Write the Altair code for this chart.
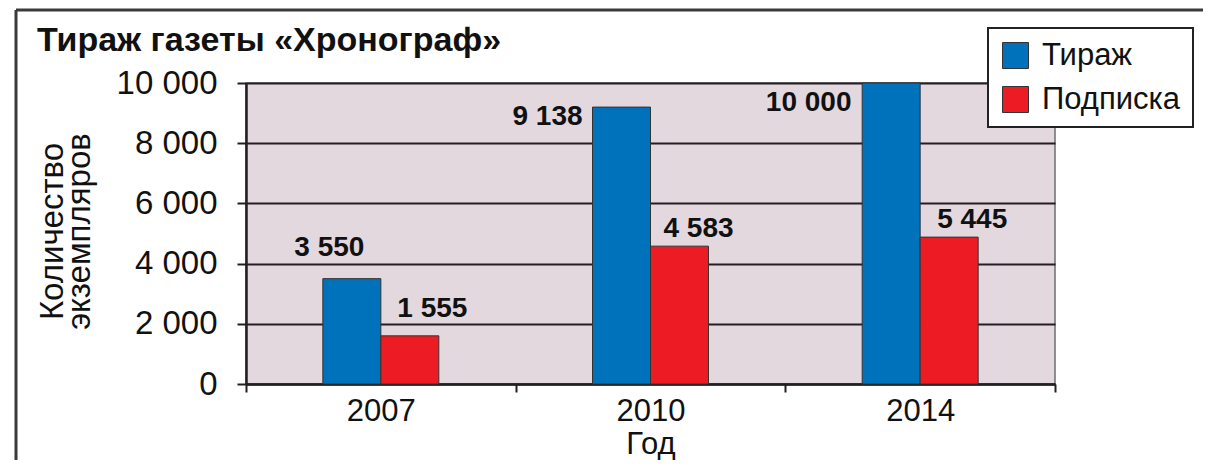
import altair as alt
import pandas as pd

years = ["2007", "2010", "2014"]
series = ["Тираж", "Подписка"]
tirazh = [3500, 9200, 10000]
podpiska = [1600, 4580, 4880]
tirazh_labels = ["3 550", "9 138", "10 000"]
podpiska_labels = ["1 555", "4 583", "5 445"]
colors = ["#0071BB", "#ED1C24"]
y_ticks = [0, 2000, 4000, 6000, 8000, 10000]

rows = []
for i, y in enumerate(years):
    rows.append({"year": y, "series": series[0], "value": tirazh[i], "label": tirazh_labels[i]})
    rows.append({"year": y, "series": series[1], "value": podpiska[i], "label": podpiska_labels[i]})
df = pd.DataFrame(rows)

FONT = "Liberation Sans"
W, H = 809, 301
PAD = {"left": 238, "top": 75, "right": 148, "bottom": 76}

# offset slots: empty slot on each side keeps bars narrow and centred
offset_domain = ["_l"] + series + ["_r"]

x_enc = alt.X("year:N", sort=years,
              scale=alt.Scale(paddingInner=0, paddingOuter=0),
              axis=alt.Axis(title="Год", labelAngle=0, tickBand="extent",
                            labelFontSize=31, titleFontSize=31, titleFontWeight="normal",
                            tickSize=8, tickWidth=2, tickColor="#231F20",
                            domainColor="#231F20", domainWidth=2.5,
                            labelPadding=4, titlePadding=3, grid=False))
xo_enc = alt.XOffset("series:N",
                     scale=alt.Scale(domain=offset_domain, paddingInner=0, paddingOuter=0.325))
y_enc = alt.Y("value:Q",
              scale=alt.Scale(domain=[0, 10000], nice=False),
              axis=alt.Axis(title=["Количество", "экземпляров"], values=y_ticks,
                            labelExpr="replace(format(datum.value, ','), ',', ' ')",
                            labelFontSize=33, labelPadding=20,
                            tickSize=9, tickWidth=2, tickColor="#231F20",
                            grid=True, gridColor="#231F20", gridWidth=2,
                            domainColor="#231F20", domainWidth=2.5,
                            titleFontSize=33, titleFontWeight="normal",
                            titleAngle=270, titleLineHeight=27,
                            titleBaseline="alphabetic", titleAlign="center",
                            titleX=-184, titleY=148))

base = alt.Chart(df)

bars = base.mark_bar(stroke="#333333", strokeWidth=1).encode(
    x=x_enc, xOffset=xo_enc, y=y_enc,
    color=alt.Color("series:N", sort=series,
                    scale=alt.Scale(domain=series, range=colors),
                    legend=alt.Legend(title=None, orient="none", legendX=742, legendY=-55,
                                      symbolType="square", symbolSize=676,
                                      symbolStrokeColor="#333333", symbolStrokeWidth=1,
                                      labelFontSize=31, labelOffset=11, rowPadding=12,
                                      padding=12, fillColor="white",
                                      strokeColor="#222222")),
)

label_style = {
    ("2007", "Тираж"): dict(dx=-22.5, dy=-23),
    ("2007", "Подписка"): dict(dx=22.5, dy=-19),
    ("2010", "Тираж"): dict(dx=-74, dy=18),
    ("2010", "Подписка"): dict(dx=19, dy=-9),
    ("2014", "Тираж"): dict(dx=-82.5, dy=28),
    ("2014", "Подписка"): dict(dx=23, dy=-9),
}

texts = []
for (yr, s), st in label_style.items():
    t = base.transform_filter(
        (alt.datum.year == yr) & (alt.datum.series == s)
    ).mark_text(fontSize=28, fontWeight="bold", baseline="alphabetic", align="center",
                color="#111111", dx=st["dx"], dy=st["dy"]).encode(
        x=alt.X("year:N", sort=years), xOffset=xo_enc,
        y=alt.Y("value:Q"), text="label:N")
    texts.append(t)

frame_df = pd.DataFrame({"k": [0]})
top_line = alt.Chart(frame_df).mark_rule(color="#3a3a3a", strokeWidth=3).encode(
    x=alt.value(-230), x2=alt.value(W + PAD["right"]), y=alt.value(-73))
left_line = alt.Chart(frame_df).mark_rule(color="#3a3a3a", strokeWidth=3).encode(
    x=alt.value(-230), y=alt.value(-73), y2=alt.value(H + PAD["bottom"]))

chart = alt.layer(bars, *texts, top_line, left_line).properties(
    width=W, height=H,
    title=alt.TitleParams("Тираж газеты «Хронограф»", anchor="start", frame="group",
                          fontSize=34, fontWeight="bold", baseline="alphabetic",
                          dx=-209, dy=80, color="#111111"),
    autosize=alt.AutoSizeParams(type="none"),
    padding=PAD,
).configure(font=FONT).configure_view(
    fill="#E4D8DF", stroke="#6d6d6d", strokeWidth=1.5
).configure_axis(
    labelColor="#111111", titleColor="#111111", labelFont=FONT, titleFont=FONT
).configure_legend(
    labelFont=FONT, labelColor="#111111", strokeWidth=2
).configure_title(font=FONT)

chart.save("out.html", embed_options={"renderer": "svg", "actions": False})
